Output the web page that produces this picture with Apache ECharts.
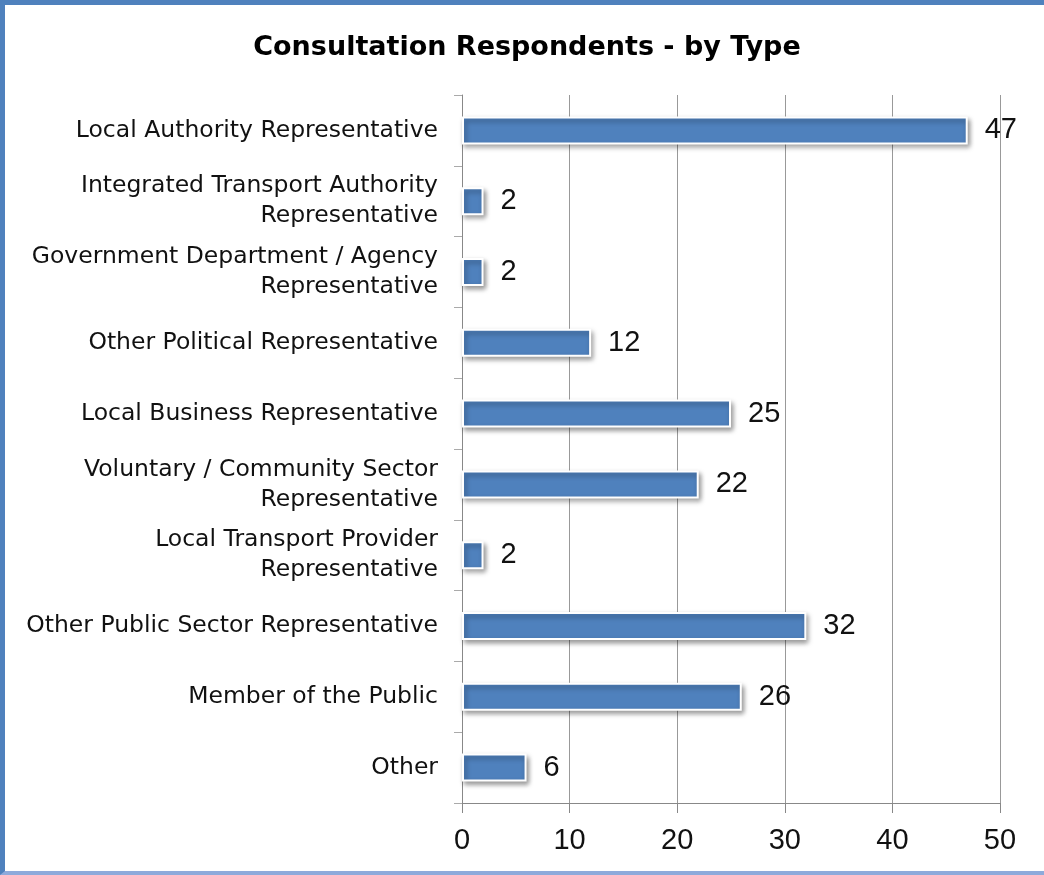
<!DOCTYPE html>
<html>
<head>
<meta charset="utf-8">
<script src="https://cdn.jsdelivr.net/npm/echarts@6/dist/echarts.min.js"></script>
<style>
html,body{margin:0;padding:0;background:#fff;}
#frame{position:absolute;left:0;top:0;width:1044px;height:875px;box-sizing:border-box;border-top:5px solid #4F81BD;border-left:5px solid #4F81BD;border-bottom:4px solid #8EAADB;}
#chart{position:absolute;left:0;top:0;width:1044px;height:875px;}
</style>
</head>
<body>
<div id="frame"></div>
<div id="chart"></div>
<script>
const title = 'Consultation Respondents - by Type';
const categories = [
  'Local Authority Representative',
  'Integrated Transport Authority\nRepresentative',
  'Government Department / Agency\nRepresentative',
  'Other Political Representative',
  'Local Business Representative',
  'Voluntary / Community Sector\nRepresentative',
  'Local Transport Provider\nRepresentative',
  'Other Public Sector Representative',
  'Member of the Public',
  'Other'
];
const values = [47, 2, 2, 12, 25, 22, 2, 32, 26, 6];
const xTicks = {min: 0, max: 50, interval: 10};

const chart = echarts.init(document.getElementById('chart'));
chart.setOption({
  animation: false,
  title: {
    text: title,
    left: 522, top: 29, textAlign: 'center',
    textStyle: {fontFamily: 'DejaVu Sans, sans-serif', fontSize: 27, fontWeight: 'bold', color: '#000'}
  },
  grid: {left: 462, right: 44, top: 95, bottom: 72, containLabel: false},
  xAxis: {
    type: 'value', min: xTicks.min, max: xTicks.max, interval: xTicks.interval,
    axisLine: {show: true, lineStyle: {color: '#888', width: 1}},
    axisTick: {show: true, inside: false, length: 10, lineStyle: {color: '#888'}},
    splitLine: {show: true, lineStyle: {color: '#999', width: 1}},
    axisLabel: {fontFamily: 'Liberation Sans, Arial, sans-serif', fontSize: 29, color: '#111', margin: 23}
  },
  yAxis: {
    type: 'category', data: categories, inverse: true,
    axisLine: {show: true, lineStyle: {color: '#888', width: 1}},
    axisTick: {show: true, length: 8, lineStyle: {color: '#aaa'}},
    axisLabel: {fontFamily: 'DejaVu Sans, sans-serif', fontSize: 23.5, color: '#111', margin: 24, lineHeight: 30, align: 'right'}
  },
  series: [{
    type: 'bar', data: values, barWidth: 28,
    itemStyle: {color: '#4F81BD', borderColor: '#fff', borderWidth: 2,
      shadowBlur: 5, shadowColor: 'rgba(0,0,0,0.4)', shadowOffsetX: 2, shadowOffsetY: 3},
    label: {show: true, position: 'right', distance: 17,
      fontFamily: 'Liberation Sans, Arial, sans-serif', fontSize: 29, color: '#111'}
  }]
});
</script>
</body>
</html>
